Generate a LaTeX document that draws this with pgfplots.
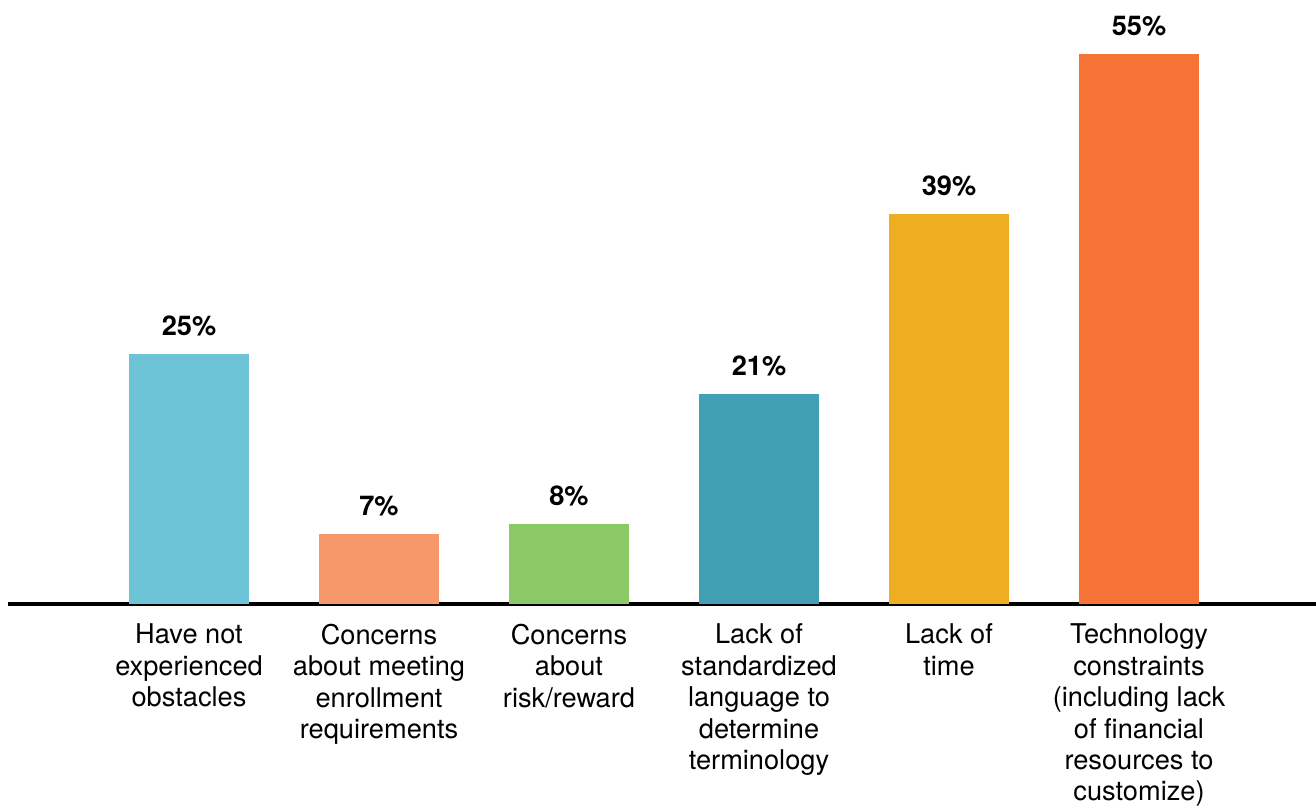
\documentclass[border=0pt]{standalone}
\usepackage{pgfplots}
\pgfplotsset{compat=1.18}
\usepackage{fontspec}
\setmainfont{TeX Gyre Heros}
\definecolor{c1}{HTML}{6EC4D7}
\definecolor{c2}{HTML}{F7986A}
\definecolor{c3}{HTML}{8BC866}
\definecolor{c4}{HTML}{41A0B4}
\definecolor{c5}{HTML}{EFAE22}
\definecolor{c6}{HTML}{F47335}
\begin{document}
\begin{tikzpicture}
\begin{axis}[
  at={(4pt,101pt)}, anchor=south west,
  scale only axis, width=654pt, height=300pt,
  xmin=-0.9526, xmax=5.9316, ymin=0, ymax=60,
  axis x line=bottom, axis y line=none,
  axis line style={line width=2pt, -},
  /pgf/number format/assume math mode=true,
  xtick={0,1,2,3,4,5}, major tick length=0pt,
  xticklabels={{Have not\\experienced\\obstacles},{Concerns\\about meeting\\enrollment\\requirements},{Concerns\\about\\risk/reward},{Lack of\\standardized\\language to\\determine\\terminology},{Lack of\\time},{Technology\\constraints\\(including lack\\of financial\\resources to\\customize)}},
  xticklabel style={align=center, font=\fontsize{13.6}{15.7}\selectfont, yshift=-6.5pt},
  ybar, bar width=60pt, bar shift=0pt,
  nodes near coords={\pgfmathprintnumber{\pgfplotspointmeta}\%},
  nodes near coords style={font=\fontsize{13.6}{15}\selectfont\bfseries, anchor=south, yshift=5.5pt},
  every axis plot/.append style={draw=none},
  clip=false,
]
\addplot[fill=c1] coordinates {(0,25)};
\addplot[fill=c2] coordinates {(1,7)};
\addplot[fill=c3] coordinates {(2,8)};
\addplot[fill=c4] coordinates {(3,21)};
\addplot[fill=c5] coordinates {(4,39)};
\addplot[fill=c6] coordinates {(5,55)};
\end{axis}
\pgfresetboundingbox
\path[use as bounding box] (0,0) rectangle (658pt,403pt);
\end{tikzpicture}
\end{document}
